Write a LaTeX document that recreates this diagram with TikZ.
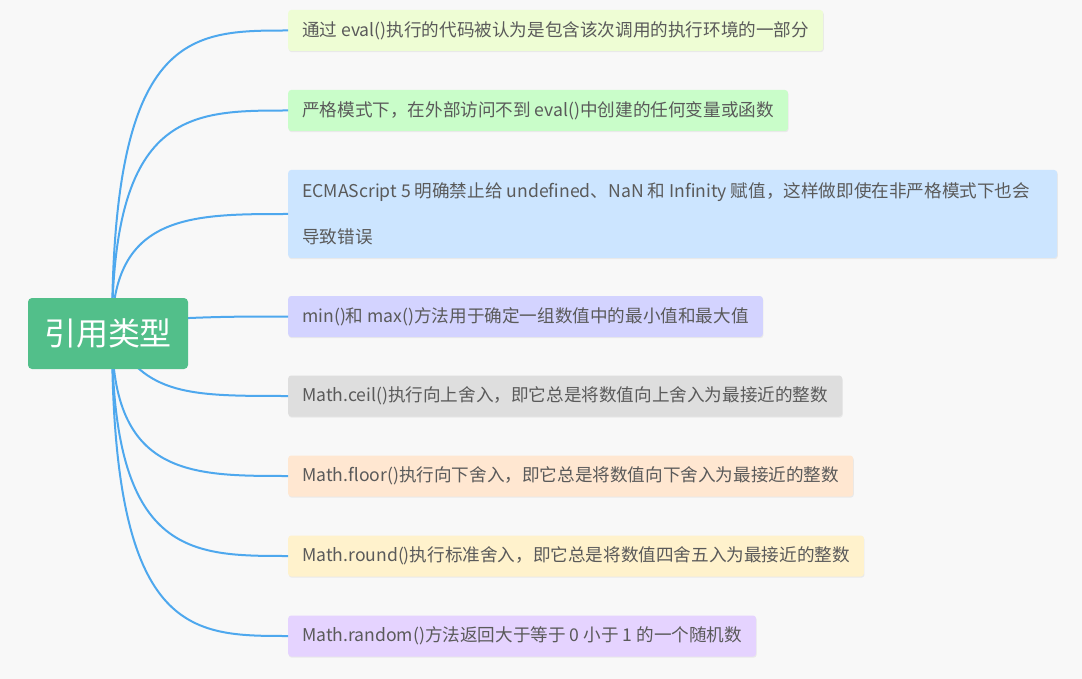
\documentclass[tikz,border=0pt]{standalone}
\usepackage{fontspec}
\setmainfont{Noto Sans CJK SC}
\usetikzlibrary{shadows}
\definecolor{bgc}{HTML}{F8F8F8}
\definecolor{linec}{HTML}{4EA8EE}
\definecolor{rootc}{HTML}{52BF8A}
\definecolor{txtc}{HTML}{5A5A5A}
\definecolor{evalc}{HTML}{EEFDD4}
\definecolor{strictc}{HTML}{C9FDC9}
\definecolor{esc}{HTML}{CCE5FF}
\definecolor{minmaxc}{HTML}{D3D3FF}
\definecolor{ceilc}{HTML}{DEDEDE}
\definecolor{floorc}{HTML}{FFE7D1}
\definecolor{roundc}{HTML}{FFF2CC}
\definecolor{randomc}{HTML}{E5D3FF}

\begin{document}
\begin{tikzpicture}[
            x=1pt, y=-1pt,
            topic/.style={
                rectangle,
                rounded corners=4pt,
                fill=rootc,
                text=white,
                minimum width=160pt,
                minimum height=71pt,
                font=\fontsize{32}{36}\selectfont
            },
            item/.style={
                rectangle,
                rounded corners=3pt,
                anchor=west,
                minimum height=41pt,
                inner xsep=14pt,
                text=txtc,
                font=\fontsize{17.6}{22}\selectfont,
                drop shadow={opacity=0.12, shadow xshift=0.6pt, shadow yshift=-1.2pt}
            },
            branch/.style={
                draw=linec,
                line width=2pt
            }
        ]
        \fill[bgc] (0,0) rectangle (1082,679);
        \useasboundingbox (0,0) rectangle (1082,679);
        \node[item, fill=evalc] (eval) at (288,30.5) {通过 eval()执行的代码被认为是包含该次调用的执行环境的一部分};
        \node[item, fill=strictc] (strict) at (288,110.5) {严格模式下，在外部访问不到 eval()中创建的任何变量或函数};
        \node[item, fill=esc, align=flush left, minimum height=88pt, text width=741pt] (es5) at (288,214)
            {ECMAScript 5 明确禁止给 undefined、NaN 和 Infinity 赋值，这样做即使在非严格模式下也会\\[24pt]导致错误};
        \node[item, fill=minmaxc] (minmax) at (288,316.5) {min()和 max()方法用于确定一组数值中的最小值和最大值};
        \node[item, fill=ceilc] (ceil) at (288,396) {Math.ceil()执行向上舍入，即它总是将数值向上舍入为最接近的整数};
        \node[item, fill=floorc] (floor) at (288,476) {Math.floor()执行向下舍入，即它总是将数值向下舍入为最接近的整数};
        \node[item, fill=roundc] (round) at (288,556) {Math.round()执行标准舍入，即它总是将数值四舍五入为最接近的整数};
        \node[item, fill=randomc] (random) at (288,636) {Math.random()方法返回大于等于 0 小于 1 的一个随机数};
        \draw[branch] (112,333) .. controls (112,30.5) and (190,30.5) .. (eval.west);
        \draw[branch] (112,333) .. controls (112,110.5) and (190,110.5) .. (strict.west);
        \draw[branch] (112,333) .. controls (112,214) and (190,214) .. (es5.west);
        \draw[branch] (150,320) .. controls (210,316.5) and (240,316.5) .. (minmax.west);
        \draw[branch] (112,333) .. controls (145,396) and (190,396) .. (ceil.west);
        \draw[branch] (112,333) .. controls (112,476) and (190,476) .. (floor.west);
        \draw[branch] (112,333) .. controls (112,556) and (190,556) .. (round.west);
        \draw[branch] (112,333) .. controls (112,636) and (190,636) .. (random.west);
        \node[topic] (ref) at (108,333.5) {引用类型};
        \end{tikzpicture}
\end{document}
